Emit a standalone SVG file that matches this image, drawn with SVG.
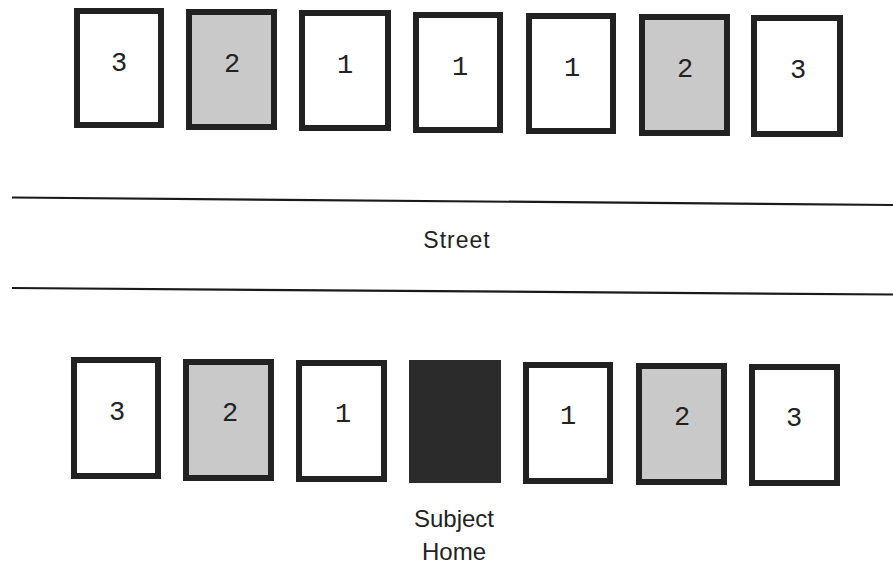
<svg xmlns="http://www.w3.org/2000/svg" width="893" height="564" viewBox="0 0 893 564">
<style>
.house{stroke:#222;stroke-width:6;}
.white{fill:#fff;}
.gray{fill:#c9c9c9;}
.dark{fill:#2b2b2b;}
.num{font-family:"Liberation Mono","Courier New",monospace;font-size:27px;fill:#222;text-anchor:middle;}
.lbl{font-family:"Liberation Sans",Arial,sans-serif;font-size:23px;fill:#222;text-anchor:middle;}
.street{stroke:#1a1a1a;stroke-width:2.2;fill:none;}
</style>
<rect width="893" height="564" fill="#fff"/>
<g id="top-3a"><rect class="house white" x="77" y="11" width="84" height="114"/><text class="num" x="119" y="71">3</text></g>
<g id="top-2a"><rect class="house gray" x="189" y="12" width="85" height="115"/><text class="num" x="232" y="72">2</text></g>
<g id="top-1a"><rect class="house white" x="302" y="13" width="86" height="115"/><text class="num" x="345" y="73">1</text></g>
<g id="top-1b"><rect class="house white" x="416" y="15" width="84" height="115"/><text class="num" x="460" y="75">1</text></g>
<g id="top-1c"><rect class="house white" x="529" y="16" width="84" height="115"/><text class="num" x="572" y="76">1</text></g>
<g id="top-2b"><rect class="house gray" x="642" y="17" width="85" height="116"/><text class="num" x="685" y="77">2</text></g>
<g id="top-3b"><rect class="house white" x="754" y="18" width="86" height="116"/><text class="num" x="798" y="78">3</text></g>
<g id="street">
<line class="street" x1="12" y1="197.5" x2="893" y2="205"/>
<line class="street" x1="12" y1="288" x2="893" y2="294.5"/>
<text class="lbl" x="457" y="248" style="letter-spacing:1px">Street</text>
</g>
<g id="bot-3a"><rect class="house white" x="74" y="360" width="84" height="116"/><text class="num" x="117" y="420">3</text></g>
<g id="bot-2a"><rect class="house gray" x="186" y="362" width="85" height="116"/><text class="num" x="230" y="421">2</text></g>
<g id="bot-1a"><rect class="house white" x="299" y="363" width="85" height="116"/><text class="num" x="343" y="422">1</text></g>
<g id="subject-home"><rect class="dark" x="409" y="360" width="92" height="123"/>
<text class="lbl" x="454" y="527" style="font-size:24px">Subject</text>
<text class="lbl" x="454" y="560" style="font-size:24px">Home</text></g>
<g id="bot-1b"><rect class="house white" x="526" y="365" width="84" height="116"/><text class="num" x="568" y="424">1</text></g>
<g id="bot-2b"><rect class="house gray" x="639" y="366" width="85" height="116"/><text class="num" x="682" y="425">2</text></g>
<g id="bot-3b"><rect class="house white" x="752" y="367" width="85" height="116"/><text class="num" x="794" y="426">3</text></g>
</svg>
